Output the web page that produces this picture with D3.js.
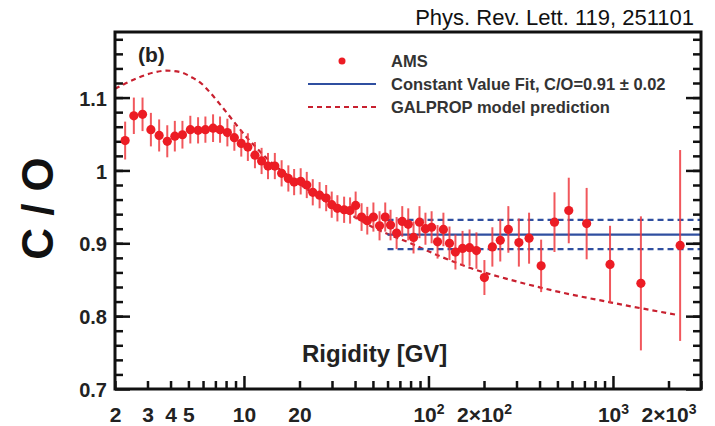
<!DOCTYPE html>
<html>
<head>
<meta charset="utf-8">
<script src="https://cdn.jsdelivr.net/npm/d3@7"></script>
<style>
body { margin: 0; background: #fff; }
svg { display: block; }
text { font-family: "Liberation Sans", Arial, Helvetica, sans-serif; }
</style>
</head>
<body>
<script>
//Width and height
var w = 715;
var h = 426;
var plotLeft = 115, plotRight = 701, plotTop = 32, plotBottom = 389;

var colorPoint = "#ec1c24";
var colorBar = "#ee3a40";
var colorModel = "#c8202f";
var colorFit = "#2f4fa0";
var colorText = "#222";

// AMS C/O ratio
var rigidity = [2.27, 2.53, 2.82, 3.13, 3.47, 3.84, 4.22, 4.64, 5.12, 5.64,
	6.18, 6.80, 7.42, 8.13, 8.87, 9.67, 10.5, 11.47, 12.46, 13.5,
	14.7, 16.0, 17.4, 18.7, 20.3, 21.9, 23.6, 25.7, 27.9, 29.9,
	32.1, 34.9, 37.6, 40.3, 43.4, 46.6, 50.3, 54.3, 58.3, 62.3,
	67.2, 72.1, 77.7, 83.0, 89.4, 96.3, 104, 112, 120.5, 130,
	140, 153, 167, 182, 201, 222, 245, 271, 309, 351,
	408, 482, 576, 720, 964, 1417, 2312];
var ratio = [1.041, 1.075, 1.077, 1.056, 1.048, 1.040, 1.047, 1.049, 1.056, 1.055,
	1.056, 1.058, 1.056, 1.052, 1.045, 1.037, 1.032, 1.021, 1.013, 1.006,
	1.006, 0.996, 0.989, 0.984, 0.985, 0.980, 0.970, 0.966, 0.962, 0.953,
	0.948, 0.946, 0.945, 0.952, 0.936, 0.931, 0.936, 0.924, 0.936, 0.925,
	0.914, 0.930, 0.926, 0.908, 0.929, 0.920, 0.922, 0.902, 0.919, 0.900,
	0.888, 0.893, 0.894, 0.890, 0.853, 0.895, 0.904, 0.919, 0.901, 0.907,
	0.869, 0.929, 0.945, 0.927, 0.871, 0.845, 0.897];
var ratioErr = [0.026, 0.025, 0.023, 0.023, 0.022, 0.022, 0.021, 0.019, 0.019, 0.018,
	0.018, 0.019, 0.018, 0.019, 0.018, 0.018, 0.019, 0.018, 0.018, 0.018,
	0.018, 0.018, 0.018, 0.018, 0.018, 0.018, 0.018, 0.018, 0.018, 0.018,
	0.018, 0.018, 0.018, 0.019, 0.019, 0.019, 0.020, 0.020, 0.020, 0.021,
	0.022, 0.021, 0.022, 0.022, 0.022, 0.022, 0.022, 0.023, 0.023, 0.023,
	0.024, 0.024, 0.025, 0.025, 0.024, 0.027, 0.029, 0.032, 0.033, 0.035,
	0.036, 0.041, 0.045, 0.049, 0.053, 0.092, 0.131];

// GALPROP model prediction
var galpropR = [2, 2.6, 3.2, 3.8, 4.5, 5.2, 5.9, 6.6, 7.4, 8.2,
	9.2, 10.3, 11.5, 13, 15, 18, 22, 28, 38, 51,
	80, 116, 169, 277, 476, 964, 2200];
var galpropRatio = [1.112, 1.126, 1.134, 1.137, 1.135, 1.128, 1.119, 1.106, 1.091, 1.077,
	1.061, 1.046, 1.033, 1.019, 1.005, 0.990, 0.974, 0.957, 0.939, 0.921,
	0.900, 0.882, 0.866, 0.850, 0.835, 0.819, 0.802];

// constant value fit
var fitRange = [60, 3000];
var fitValue = 0.912;
var fitBand = [0.892, 0.932];

// ticks
var xMinorTicks = [2, 3, 4, 5, 6, 7, 8, 9, 20, 30, 40, 50, 60, 70, 80, 90,
	200, 300, 400, 500, 600, 700, 800, 900, 2000, 3000];
var xMajorTicks = [10, 100, 1000];
var xLabelTicks = [2, 3, 4, 5, 10, 20, 100, 200, 1000, 2000];
var xLabels = ["2", "3", "4", "5", "10", "20", "10^2", "2\u00d710^2", "10^3", "2\u00d710^3"];
var yMajorTicks = [0.7, 0.8, 0.9, 1.0, 1.1];
var yLabels = ["0.7", "0.8", "0.9", "1", "1.1"];
var yMinorTicks = d3.range(0.72, 1.19, 0.02);

var svg = d3.select("body")
	.append("svg")
	.attr("width", w)
	.attr("height", h);

var x = d3.scaleLog().domain([2, 3000]).range([plotLeft, plotRight]);
var y = d3.scaleLinear().domain([0.7, 1.19]).range([plotBottom, plotTop]);

function styleTicks(g) {
	g.select(".domain").remove();
	g.selectAll(".tick line").attr("stroke", "#111").attr("stroke-width", 2.5);
}

// bottom ticks (inward)
svg.append("g").attr("transform", "translate(0," + plotBottom + ")")
	.call(d3.axisBottom(x).tickValues(xMinorTicks).tickSize(-8).tickFormat(""))
	.call(styleTicks);
svg.append("g").attr("transform", "translate(0," + plotBottom + ")")
	.call(d3.axisBottom(x).tickValues(xMajorTicks).tickSize(-13).tickFormat(""))
	.call(styleTicks);

// bottom labels
var xLab = svg.append("g").attr("transform", "translate(0," + plotBottom + ")")
	.call(d3.axisBottom(x).tickValues(xLabelTicks).tickSize(0).tickPadding(18)
		.tickFormat(function(d, i) { return xLabels[i]; }))
	.call(styleTicks);
xLab.selectAll("text")
	.attr("font-size", "21px")
	.attr("font-weight", "bold")
	.attr("fill", colorText)
	.each(function() {
		var t = d3.select(this);
		var s = t.text();
		if (s.indexOf("^") < 0) return;
		var parts = s.split("^");
		t.text("");
		t.append("tspan").text(parts[0]);
		t.append("tspan").attr("dy", "-8").attr("font-size", "14px").text(parts[1]);
	});

// left / right ticks
[[d3.axisLeft, plotLeft], [d3.axisRight, plotRight]].forEach(function(a) {
	svg.append("g").attr("transform", "translate(" + a[1] + ",0)")
		.call(a[0](y).tickValues(yMinorTicks).tickSize(-8).tickFormat(""))
		.call(styleTicks);
	svg.append("g").attr("transform", "translate(" + a[1] + ",0)")
		.call(a[0](y).tickValues(yMajorTicks).tickSize(-15).tickFormat(""))
		.call(styleTicks);
});

var yLab = svg.append("g").attr("transform", "translate(" + plotLeft + ",0)")
	.call(d3.axisLeft(y).tickValues(yMajorTicks).tickSize(0).tickPadding(8)
		.tickFormat(function(d, i) { return yLabels[i]; }))
	.call(styleTicks);
yLab.selectAll("text")
	.attr("font-size", "20px")
	.attr("font-weight", "bold")
	.attr("dy", "0.38em")
	.attr("fill", colorText);

// GALPROP curve
var galprop = galpropR.map(function(r, i) { return [r, galpropRatio[i]]; });
svg.append("path")
	.datum(galprop)
	.attr("d", d3.line()
		.x(function(d) { return x(d[0]); })
		.y(function(d) { return y(d[1]); })
		.curve(d3.curveMonotoneX))
	.attr("fill", "none")
	.attr("stroke", colorModel)
	.attr("stroke-width", 2.2)
	.attr("stroke-dasharray", "5,4");

// fit lines
svg.append("line")
	.attr("x1", x(fitRange[0])).attr("x2", x(fitRange[1]))
	.attr("y1", y(fitValue)).attr("y2", y(fitValue))
	.attr("stroke", colorFit).attr("stroke-width", 2.2);
svg.selectAll("line.band")
	.data(fitBand)
	.enter()
	.append("line")
	.attr("class", "band")
	.attr("x1", x(fitRange[0])).attr("x2", x(fitRange[1]))
	.attr("y1", function(d) { return y(d); })
	.attr("y2", function(d) { return y(d); })
	.attr("stroke", colorFit).attr("stroke-width", 2.2)
	.attr("stroke-dasharray", "6,4");

// data
var points = rigidity.map(function(r, i) { return {r: r, v: ratio[i], e: ratioErr[i]}; });
svg.selectAll("line.err")
	.data(points)
	.enter()
	.append("line")
	.attr("class", "err")
	.attr("x1", function(d) { return x(d.r); })
	.attr("x2", function(d) { return x(d.r); })
	.attr("y1", function(d) { return y(d.v - d.e); })
	.attr("y2", function(d) { return y(d.v + d.e); })
	.attr("stroke", colorBar)
	.attr("stroke-opacity", 0.85)
	.attr("stroke-width", 2);
svg.selectAll("circle.pt")
	.data(points)
	.enter()
	.append("circle")
	.attr("class", "pt")
	.attr("cx", function(d) { return x(d.r); })
	.attr("cy", function(d) { return y(d.v); })
	.attr("r", 4.6)
	.attr("fill", colorPoint);

// frame
svg.append("rect")
	.attr("x", plotLeft).attr("y", plotTop)
	.attr("width", plotRight - plotLeft).attr("height", plotBottom - plotTop)
	.attr("fill", "none")
	.attr("stroke", "#111")
	.attr("stroke-width", 3);

// legend
var leg = svg.append("g").attr("font-size", "16.5px").attr("font-weight", "bold").attr("fill", "#333");
leg.append("circle").attr("cx", 342).attr("cy", 61).attr("r", 3.5).attr("fill", colorPoint);
leg.append("text").attr("x", 391).attr("y", 67).text("AMS");
leg.append("line").attr("x1", 308).attr("x2", 376).attr("y1", 84).attr("y2", 84)
	.attr("stroke", colorFit).attr("stroke-width", 2);
leg.append("text").attr("x", 391).attr("y", 90).text("Constant Value Fit, C/O=0.91 \u00b1 0.02");
leg.append("line").attr("x1", 308).attr("x2", 376).attr("y1", 107).attr("y2", 107)
	.attr("stroke", colorModel).attr("stroke-width", 2).attr("stroke-dasharray", "5,4");
leg.append("text").attr("x", 391).attr("y", 113).text("GALPROP model prediction");

// labels
svg.append("text")
	.attr("x", 138).attr("y", 62)
	.attr("font-size", "21px").attr("font-weight", "bold").attr("fill", colorText)
	.text("(b)");

svg.append("text")
	.attr("transform", "translate(53,208.5) rotate(-90)")
	.attr("text-anchor", "middle")
	.attr("font-size", "44px").attr("font-weight", "bold").attr("fill", "#111")
	.text("C / O");

svg.append("text")
	.attr("x", 302).attr("y", 362)
	.attr("font-size", "24px").attr("font-weight", "bold").attr("fill", colorText)
	.text("Rigidity [GV]");

svg.append("text")
	.attr("x", 694).attr("y", 25)
	.attr("text-anchor", "end")
	.attr("font-family", "'Open Sans', sans-serif")
	.attr("font-size", "22px").attr("fill", "#111")
	.text("Phys. Rev. Lett. 119, 251101");
</script>
</body>
</html>
